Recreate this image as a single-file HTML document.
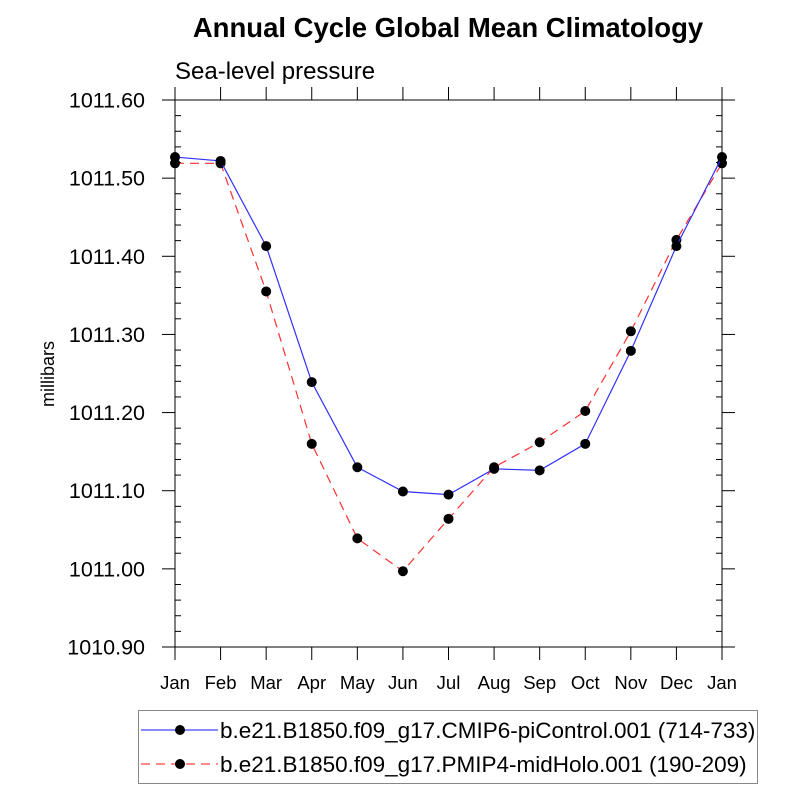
<!DOCTYPE html>
<html><head><meta charset="utf-8"><style>
body{margin:0;background:#fff;}
svg text{font-family:"Liberation Sans",sans-serif;}
</style></head><body>
<svg width="800" height="800" viewBox="0 0 800 800">
<text x="448" y="37" text-anchor="middle" font-size="27.5" font-weight="bold">Annual Cycle Global Mean Climatology</text>
<text x="175" y="79" font-size="24">Sea-level pressure</text>
<text transform="translate(54,374) rotate(-90)" text-anchor="middle" font-size="18">millibars</text>
<g id="axes"></g>
<g id="series"></g>
<g>
<rect x="138.5" y="710.5" width="619" height="73" fill="#fff" stroke="#888"/>
<g>
<line x1="141" y1="730" x2="218" y2="730" stroke="#4040ff" stroke-width="1.2"/>
<circle cx="180" cy="730" r="5" fill="#000"/>
<text x="220" y="738" font-size="22.5">b.e21.B1850.f09_g17.CMIP6-piControl.001 (714-733)</text>
</g>
<g>
<line x1="141" y1="764" x2="218" y2="764" stroke="#ff4040" stroke-width="1.2" stroke-dasharray="9,6"/>
<circle cx="180" cy="764" r="5" fill="#000"/>
<text x="220" y="772" font-size="22.5">b.e21.B1850.f09_g17.PMIP4-midHolo.001 (190-209)</text>
</g>
</g>
</svg>
<script>
const months=["Jan","Feb","Mar","Apr","May","Jun","Jul","Aug","Sep","Oct","Nov","Dec","Jan"];
const piControl=[1011.527,1011.522,1011.413,1011.239,1011.130,1011.099,1011.095,1011.128,1011.126,1011.160,1011.279,1011.413,1011.527];
const midHolo=[1011.519,1011.519,1011.355,1011.160,1011.039,1010.997,1011.064,1011.130,1011.162,1011.202,1011.304,1011.421,1011.519];
const yTicks=[1010.9,1011.0,1011.1,1011.2,1011.3,1011.4,1011.5,1011.6];
const yTickLabels=["1010.90","1011.00","1011.10","1011.20","1011.30","1011.40","1011.50","1011.60"];
const NS="http://www.w3.org/2000/svg";
const X0=175,X1=722,Y0=647,Y1=100,YMIN=1010.9,YMAX=1011.6;
const xs=i=>X0+(X1-X0)*i/(months.length-1);
const ys=v=>Y0-(v-YMIN)/(YMAX-YMIN)*(Y0-Y1);
function mk(tag,attrs,parent){const e=document.createElementNS(NS,tag);for(const k in attrs)e.setAttribute(k,attrs[k]);parent.appendChild(e);return e;}
const axes=document.getElementById('axes');
const frame=mk('rect',{x:X0,y:Y1,width:X1-X0,height:Y0-Y1,fill:'none',stroke:'#000','stroke-width':1},axes);


yTicks.forEach((v,i)=>{
  const y=ys(v);
  mk('line',{x1:X0-13,y1:y,x2:X0,y2:y,stroke:'#000'},axes);
  mk('line',{x1:X1,y1:y,x2:X1+13,y2:y,stroke:'#000'},axes);
  const t=mk('text',{x:X0-30,y:y+7.5,'text-anchor':'end','font-size':21.5},axes);
  t.textContent=yTickLabels[i];
  
  
  if(i<yTicks.length-1){for(let k=1;k<5;k++){const ym=ys(v+0.02*k);
    mk('line',{x1:X0,y1:ym,x2:X0+6,y2:ym,stroke:'#000'},axes);
    mk('line',{x1:X1-6,y1:ym,x2:X1,y2:ym,stroke:'#000'},axes);}}
});
months.forEach((m,i)=>{
  const x=xs(i);
  mk('line',{x1:x,y1:Y0,x2:x,y2:Y0+13,stroke:'#000'},axes);
  mk('line',{x1:x,y1:Y1-13,x2:x,y2:Y1,stroke:'#000'},axes);
  const t=mk('text',{x:x,y:Y0+42,'text-anchor':'middle','font-size':18.5},axes);
  t.textContent=m;
  
  
});
const series=document.getElementById('series');
function draw(vals,color,dash,name){
  const g=mk('g',{},series);
  
  
  const p=mk('polyline',{points:vals.map((v,i)=>xs(i)+','+ys(v)).join(' '),fill:'none',stroke:color,'stroke-width':1.2},g);
  if(dash)p.setAttribute('stroke-dasharray',dash);
  vals.forEach((v,i)=>{const c=mk('circle',{cx:xs(i),cy:ys(v),r:5,fill:'#000'},g);
    
    });
}
draw(midHolo,'#ff3030','9,6','series-midholo');
draw(piControl,'#3030ff',null,'series-picontrol');
</script>
</body></html>
